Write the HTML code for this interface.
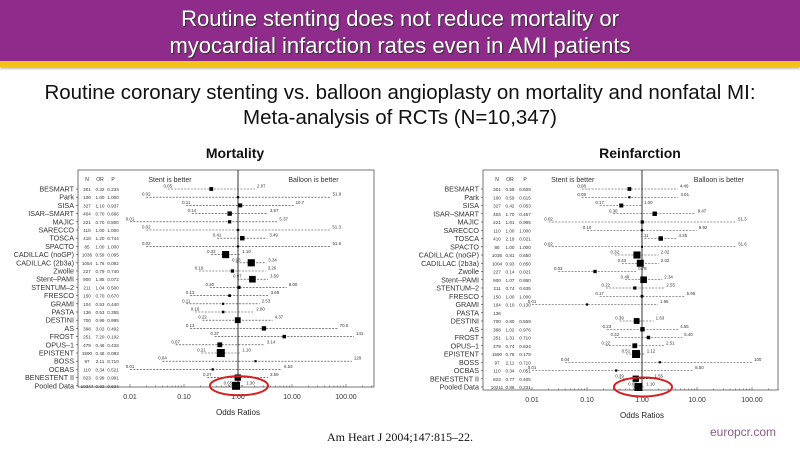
<!DOCTYPE html>
<html><head><meta charset="utf-8">
<style>
body{margin:0;width:800px;height:450px;overflow:hidden;background:#fff;font-family:"Liberation Sans",sans-serif;position:relative}
.hdr{position:absolute;left:0;top:0;width:800px;height:61px;background:#8f2b8b}
.hdr div{color:#fff;font-size:22px;text-align:center;line-height:27px;padding-top:5px;text-shadow:1px 1px 1px #333}
.yel{position:absolute;left:0;top:61px;width:800px;height:6px;background:#f2c218;box-shadow:0 2px 2px #bbb}
.sub{position:absolute;left:0;top:80px;width:800px;text-align:center;font-size:20.5px;line-height:25px;color:#111}
</style></head><body>
<div class="hdr"><div>Routine stenting does not reduce mortality or<br>myocardial infarction rates even in AMI patients</div></div>
<div class="yel"></div>
<div class="sub">Routine coronary stenting vs. balloon angioplasty on mortality and nonfatal MI:<br>Meta-analysis of RCTs (N=10,347)</div>
<svg id="chart" width="800" height="450" style="position:absolute;left:0;top:0"></svg>
<script>
const studies=["BESMART","Park","SISA","ISAR\u2013SMART","MAJIC","SARECCO","TOSCA","SPACTO","CADILLAC (noGP)","CADILLAC (2b3a)","Zwolle","Stent\u2013PAMI","STENTUM\u20132","FRESCO","GRAMI","PASTA","DESTINI","AS","FROST","OPUS\u20131","EPISTENT","BOSS","OCBAS","BENESTENT II","Pooled Data"];
const mortN=[301,100,327,404,221,110,410,85,1036,1054,227,900,211,150,104,136,700,398,251,479,1590,97,110,823,10347];
const mortOR=[0.32,1.00,1.10,0.70,0.70,1.00,1.20,1.00,0.59,1.76,0.79,1.85,1.04,0.70,0.53,0.53,0.99,3.02,7.20,0.46,0.48,2.11,0.34,0.99,0.92];
const mortLo=[0.05,0.02,0.11,0.14,0.01,0.02,0.41,0.02,0.32,0.93,0.19,0.97,0.30,0.13,0.11,0.16,0.22,0.13,0.37,0.07,0.21,0.04,0.01,0.27,0.65];
const mortHi=[2.07,51.9,10.7,3.57,5.37,51.3,3.49,51.6,1.10,3.34,3.26,3.59,8.00,3.69,2.53,2.00,4.37,70.0,141,3.14,1.10,129,6.53,3.59,1.30];
const mortP=["0.233","1.000","0.937","0.666","0.800","1.000","0.744","1.000","0.095","0.092","0.740","0.072","0.500","0.670","0.440","0.355","0.995","0.492","0.192","0.433","0.083","0.710","0.521","0.991","0.634"];
const reinN=[301,100,327,404,221,110,410,85,1036,1004,227,900,211,150,104,136,700,398,251,479,1590,97,110,823,10211];
const reinOR=[0.59,0.59,0.42,1.70,1.01,1.00,2.19,1.00,0.81,0.93,0.14,1.07,0.74,1.00,0.10,null,0.80,1.02,1.31,0.74,0.78,2.11,0.34,0.77,0.86];
const reinLo=[0.08,0.08,0.17,0.30,0.02,0.10,1.11,0.02,0.32,0.43,0.03,0.49,0.22,0.17,0.01,null,0.39,0.23,0.32,0.22,0.51,0.04,0.01,0.39,0.67];
const reinHi=[4.49,4.61,1.00,9.47,51.3,9.92,4.25,51.6,2.02,2.02,0.78,2.34,2.55,5.95,1.95,null,1.63,4.55,5.40,2.51,1.12,100,8.50,1.55,1.10];
const reinP=["0.609","0.615","0.053","0.457","0.995","1.000","0.021","1.000","0.650","0.850","0.021","0.860","0.635","1.000","0.130","","0.559","0.976","0.710","0.634","0.179","0.710","0.051","0.405","0.231"];
const tickVals=[0.01,0.1,1,10,100];
const tickLabels=["0.01","0.10","1.00","10.00","100.00"];

const svg=document.getElementById('chart');
const NS="http://www.w3.org/2000/svg";
function mk(tag,at,parent){const e=document.createElementNS(NS,tag);for(const k in at)e.setAttribute(k,at[k]);(parent||svg).appendChild(e);return e;}
function fmt(v){return v>=100?String(Math.round(v)):v>=10?v.toFixed(1):v.toFixed(2);}

function forest(cfg,N,OR,LO,HI,P,title,prefix){
  const g=mk('g',{});
  
  
  const sx=v=>cfg.x1+cfg.dec*Math.log10(v);
  const sy=i=>cfg.y0+cfg.pitch*i;
  const t=mk('text',{x:cfg.tx,y:158,'text-anchor':'middle','font-size':14,'font-weight':'bold',fill:'#111'},g);t.textContent=title;
  
  
  const box=mk('rect',{x:cfg.bx,y:170,width:cfg.bw,height:cfg.bh,fill:'none',stroke:'#555','stroke-width':0.8},g);
  
  
  const ref=mk('line',{x1:sx(1),x2:sx(1),y1:170,y2:170+cfg.bh,stroke:'#333','stroke-width':1},g);
  
  
  [["N",cfg.cn],["OR",cfg.co],["P",cfg.cp]].forEach(h=>{const e=mk('text',{x:h[1],y:181,'font-size':5,'text-anchor':'middle',fill:'#333'},g);e.textContent=h[0];
    
    });
  let e=mk('text',{x:sx(0.055),y:182,'font-size':7,'text-anchor':'middle',fill:'#333'},g);e.textContent="Stent is better";
  
  
  e=mk('text',{x:sx(25),y:182,'font-size':7,'text-anchor':'middle',fill:'#333'},g);e.textContent="Balloon is better";
  
  
  studies.forEach((s,i)=>{
    const y=sy(i);
    const l=mk('text',{x:cfg.bx-4,y:y+2.5,'font-size':7.2,'text-anchor':'end',fill:'#333'},g);l.textContent=s;
    
    
    mk('line',{x1:cfg.bx-2,x2:cfg.bx,y1:y,y2:y,stroke:'#333','stroke-width':0.6},g);
    const vals=[N[i],OR[i]==null?"":OR[i].toFixed(2),P[i]];
    [cfg.cn,cfg.co,cfg.cp].forEach((cx,k)=>{const v=mk('text',{x:cx,y:y+2,'font-size':4.6,'text-anchor':'middle',fill:'#333'},g);v.textContent=vals[k];
      
      });
    if(OR[i]==null)return;
    const ci=mk('line',{x1:sx(LO[i]),x2:sx(HI[i]),y1:y,y2:y,stroke:'#333','stroke-width':0.6,'stroke-dasharray':'2,1.3'},g);
    
    
    const lo=mk('text',{x:sx(LO[i]),y:y-1.5,'font-size':4.4,'text-anchor':'middle',fill:'#333'},g);lo.textContent=fmt(LO[i]);
    
    
    const hi=mk('text',{x:sx(HI[i])+2,y:y-1.5,'font-size':4.4,fill:'#333'},g);hi.textContent=fmt(HI[i]);
    
    
    const sz=Math.max(2,Math.min(8,Math.sqrt(N[i])*0.22));
    const m=mk('rect',{x:sx(OR[i])-sz/2,y:y-sz/2,width:sz,height:sz,fill:'#000'},g);
    
    
  });
  const ay=170+cfg.bh;
  for(let d=-2;d<=2;d++){for(let k=1;k<10;k++){const v=Math.pow(10,d)*k;if(d==2&&k>3)break;
    mk('line',{x1:sx(v),x2:sx(v),y1:ay,y2:ay-(k==1?3:1.5),stroke:'#333','stroke-width':0.5},g);}}
  tickVals.forEach((v,k)=>{const tl=mk('text',{x:sx(v),y:ay+12,'font-size':7,'text-anchor':'middle',fill:'#333'},g);tl.textContent=tickLabels[k];
    
    });
  const xt=mk('text',{x:sx(1),y:ay+28,'font-size':8,'text-anchor':'middle',fill:'#222'},g);xt.textContent="Odds Ratios";
  
  
  const py=sy(studies.length-1);
  const el=mk('ellipse',{cx:sx(1)+1,cy:py,rx:29,ry:9.5,fill:'none',stroke:'#d42020','stroke-width':2},g);
  
  
}
forest({x1:238,dec:54,y0:189,pitch:8.2,bx:78,bw:296,bh:217,tx:235,cn:87,co:100,cp:113},mortN,mortOR,mortLo,mortHi,mortP,"Mortality","mortality");
forest({x1:642,dec:55,y0:189,pitch:8.25,bx:483,bw:295,bh:220,tx:640,cn:497,co:510,cp:525},reinN,reinOR,reinLo,reinHi,reinP,"Reinfarction","reinfarction");
let c=mk('text',{x:400,y:441,'font-size':12,'text-anchor':'middle','font-family':'Liberation Serif, serif',fill:'#111'});c.textContent="Am Heart J 2004;147:815\u201322.";


c=mk('text',{x:743,y:436,'font-size':12,'text-anchor':'middle',fill:'#8a5a8a'});c.textContent="europcr.com";


</script>
</body></html>
